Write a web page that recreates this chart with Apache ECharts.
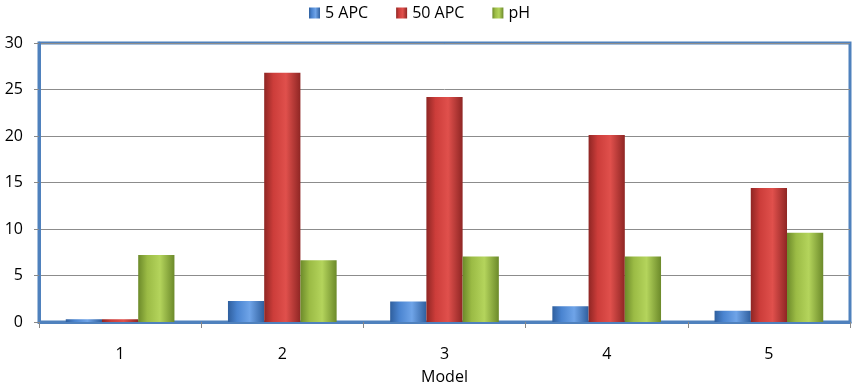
<!DOCTYPE html>
<html>
<head>
<meta charset="utf-8">
<script src="https://cdn.jsdelivr.net/npm/echarts@6/dist/echarts.min.js"></script>
<style>
  html, body { margin: 0; padding: 0; background: #fff; }
  #chart { width: 853px; height: 390px; }
</style>
</head>
<body>
<div id="chart"></div>
<script>
var models = ['1', '2', '3', '4', '5'];
var apc5 = [0.3, 2.25, 2.2, 1.7, 1.2];
var apc50 = [0.3, 26.8, 24.2, 20.1, 14.4];
var ph = [7.2, 6.65, 7.05, 7.05, 9.6];

function grad(light, mid, dark) {
  return new echarts.graphic.LinearGradient(0, 0, 1, 0, [
    { offset: 0, color: dark },
    { offset: 0.25, color: mid },
    { offset: 0.6, color: light },
    { offset: 1, color: dark }
  ]);
}

var font = 'Open Sans, Noto Sans, sans-serif';
var chart = echarts.init(document.getElementById('chart'));
chart.setOption({
  animation: false,
  legend: {
    top: 0,
    left: 304,
    icon: 'rect',
    itemWidth: 11,
    itemHeight: 11,
    itemGap: 28,
    textStyle: { fontFamily: font, fontSize: 16, color: '#000' },
    data: ['5 APC', '50 APC', 'pH']
  },
  grid: {
    left: 39, right: 3, top: 43, bottom: 67,
    show: true, borderColor: '#4F81BD', borderWidth: 3
  },
  xAxis: {
    type: 'category',
    data: models,
    name: 'Model',
    nameLocation: 'middle',
    nameGap: 47,
    nameTextStyle: { fontFamily: font, fontSize: 16, color: '#000' },
    axisLine: { lineStyle: { color: '#4F81BD', width: 3 } },
    axisTick: { show: true, length: 6, lineStyle: { color: '#888' } },
    axisLabel: { fontFamily: font, fontSize: 16, color: '#000', margin: 24 }
  },
  yAxis: {
    type: 'value',
    min: 0, max: 30, interval: 5,
    axisLine: { show: true, lineStyle: { color: '#4F81BD', width: 3 } },
    axisTick: { show: true, length: 5, lineStyle: { color: '#888' } },
    axisLabel: { fontFamily: font, fontSize: 16, color: '#000', margin: 16 },
    splitLine: { lineStyle: { color: '#8c8c8c', width: 1 } }
  },
  series: [
    {
      name: '5 APC', type: 'bar', data: apc5, barGap: '0%', barCategoryGap: '33%',
      itemStyle: { color: grad('#6fa4e8', '#4a84d0', '#2f5f9e') }
    },
    {
      name: '50 APC', type: 'bar', data: apc50,
      itemStyle: { color: grad('#e0504c', '#cc3d3a', '#8f2624') }
    },
    {
      name: 'pH', type: 'bar', data: ph,
      itemStyle: { color: grad('#b4d45c', '#9bbb45', '#6c8a2a') }
    }
  ]
});
</script>
</body>
</html>
